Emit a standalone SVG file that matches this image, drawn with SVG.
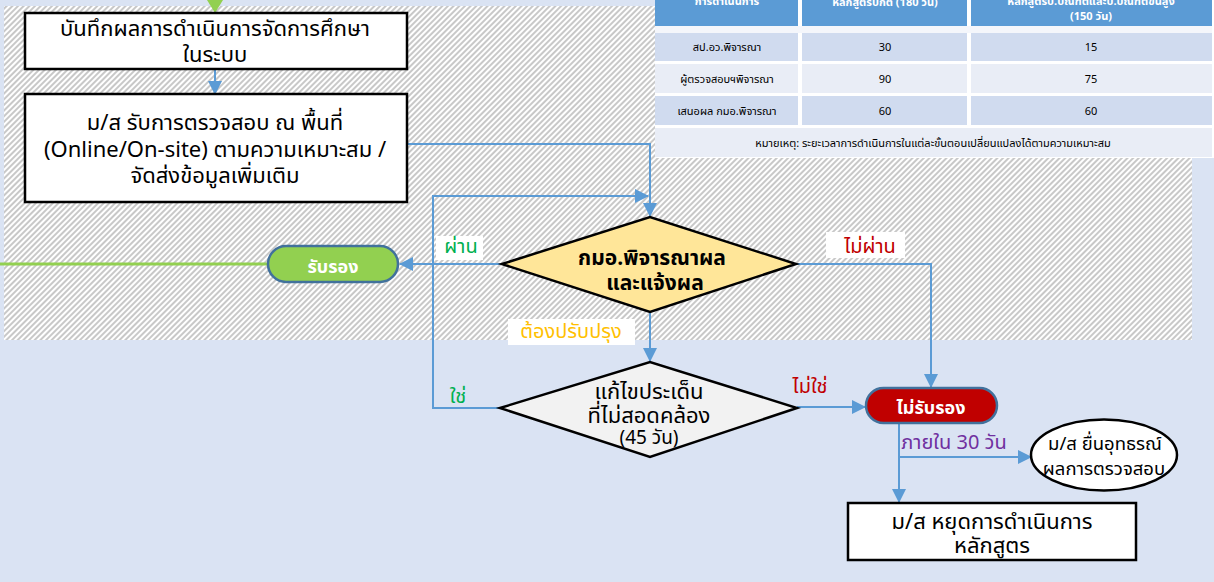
<svg xmlns="http://www.w3.org/2000/svg" width="1214" height="582" viewBox="0 0 1214 582">
<defs>
<pattern id="hatch" patternUnits="userSpaceOnUse" width="4" height="4" patternTransform="rotate(45)">
<rect width="4" height="4" fill="#ffffff"/>
<rect width="2" height="4" fill="#c8c8c8"/>
</pattern>
<marker id="arr" markerUnits="userSpaceOnUse" markerWidth="14" markerHeight="14" refX="13" refY="7" orient="auto">
<path d="M0,0 L14,7 L0,14 z" fill="#5b9bd5"/>
</marker>
</defs>
<style>
text{font-family:Tahoma,"Noto Sans Thai","Noto Sans","Liberation Sans",sans-serif;text-anchor:middle}
.box{fill:#ffffff;stroke:#000000;stroke-width:2.5}
.t20{font-size:22px;fill:#000000}
.t18{font-size:18.5px;fill:#000000}
.pill{stroke:#41719c;stroke-width:2.5}
.pt{font-size:18px;fill:#ffffff;font-weight:bold}
.con{fill:none;stroke:#5b9bd5;stroke-width:2}
.lbl{font-size:20px}
.th{font-size:11px;fill:#ffffff;font-weight:bold}
.td{font-size:11px;fill:#000000}
.hd{fill:#5b9bd5}
.r1{fill:#d0dbef}
.r2{fill:#e9edf6}
</style>
<rect width="1214" height="582" fill="#dae3f3"/>
<rect x="4" y="6" width="1188" height="334" fill="url(#hatch)"/>

<g id="table">
<rect x="655" y="0" width="559" height="158" fill="#ffffff"/>
<rect class="hd" x="655" y="0" width="143" height="26"/>
<rect class="hd" x="802" y="0" width="165" height="26"/>
<rect class="hd" x="971" y="0" width="241" height="26"/>
<rect x="655" y="26" width="557" height="7" fill="#f4f6fb"/>
<rect class="r1" x="655" y="33" width="143" height="28"/>
<rect class="r1" x="802" y="33" width="165" height="28"/>
<rect class="r1" x="971" y="33" width="241" height="28"/>
<rect class="r2" x="655" y="64" width="143" height="29"/>
<rect class="r2" x="802" y="64" width="165" height="29"/>
<rect class="r2" x="971" y="64" width="241" height="29"/>
<rect class="r1" x="655" y="96" width="143" height="29"/>
<rect class="r1" x="802" y="96" width="165" height="29"/>
<rect class="r1" x="971" y="96" width="241" height="29"/>
<rect class="r2" x="655" y="128" width="557" height="29"/>
<text class="th" x="727" y="5">การดำเนินการ</text>
<text class="th" x="885" y="6">หลักสูตรปกติ (180 วัน)</text>
<text class="th" x="1091" y="5">หลักสูตรป.บัณฑิตและป.บัณฑิตขั้นสูง</text>
<text class="th" x="1091" y="20">(150 วัน)</text>
<text class="td" x="727" y="51">สป.อว.พิจารณา</text>
<text class="td" x="885" y="51">30</text>
<text class="td" x="1091" y="51">15</text>
<text class="td" x="727" y="83">ผู้ตรวจสอบฯพิจารณา</text>
<text class="td" x="885" y="83">90</text>
<text class="td" x="1091" y="83">75</text>
<text class="td" x="727" y="115">เสนอผล กมอ.พิจารณา</text>
<text class="td" x="885" y="115">60</text>
<text class="td" x="1091" y="115">60</text>
<text class="td" x="933" y="147">หมายเหตุ: ระยะเวลาการดำเนินการในแต่ละขั้นตอนเปลี่ยนแปลงได้ตามความเหมาะสม</text>
</g>

<g id="connectors">
<path d="M0,264 H268" fill="none" stroke="#92d050" stroke-width="3"/>
<path d="M215,0 V4" fill="none" stroke="#92d050" stroke-width="3"/>
<polygon points="207,0 223,0 215,13" fill="#92d050"/>
<path class="con" d="M215,69 V94" marker-end="url(#arr)"/>
<path class="con" d="M406,144 H650 V216" marker-end="url(#arr)"/>
<path class="con" d="M500,408 H433 V196 H648" marker-end="url(#arr)"/>
<path class="con" d="M502,264 H400" marker-end="url(#arr)"/>
<path class="con" d="M797,264 H931 V387" marker-end="url(#arr)"/>
<path class="con" d="M650,312 V361" marker-end="url(#arr)"/>
<path class="con" d="M797,407 H865" marker-end="url(#arr)"/>
<path class="con" d="M899,424 V502" marker-end="url(#arr)"/>
<path class="con" d="M899,457 H1031" marker-end="url(#arr)"/>
</g>

<g id="labels">
<rect x="436" y="236" width="47" height="24" fill="#ffffff"/>
<text class="lbl" x="461" y="253" fill="#00b050">ผ่าน</text>
<rect x="826" y="232" width="79" height="26" fill="#ffffff"/>
<text class="lbl" x="870" y="253" fill="#c00000">ไม่ผ่าน</text>
<rect x="508" y="319" width="127" height="26" fill="#ffffff"/>
<text class="lbl" x="571" y="338" fill="#ffc000">ต้องปรับปรุง</text>
<text class="lbl" x="458" y="403" fill="#00b050">ใช่</text>
<text class="lbl" x="810" y="393" fill="#c00000">ไม่ใช่</text>
<text class="lbl" x="954" y="449" fill="#7030a0">ภายใน 30 วัน</text>
</g>

<g id="n-record">
<rect class="box" x="25" y="13" width="382" height="56"/>
<text class="t20" x="215" y="36">บันทึกผลการดำเนินการจัดการศึกษา</text>
<text class="t20" x="215" y="62">ในระบบ</text>
</g>

<g id="n-inspect">
<rect class="box" x="25" y="94" width="382" height="108"/>
<text class="t20" x="215" y="130">ม/ส รับการตรวจสอบ ณ พื้นที่</text>
<text class="t20" x="215" y="157">(Online/On-site) ตามความเหมาะสม /</text>
<text class="t20" x="215" y="183">จัดส่งข้อมูลเพิ่มเติม</text>
</g>

<g id="n-decide">
<polygon points="502,264 650,217 796,264 650,312" fill="#ffe699" stroke="#000000" stroke-width="2.5"/>
<text x="652" y="265" font-size="21" font-weight="bold" fill="#000000">กมอ.พิจารณาผล</text>
<text x="655" y="290" font-size="21" font-weight="bold" fill="#000000">และแจ้งผล</text>
</g>

<g id="n-accept">
<rect class="pill" x="268" y="246" width="130" height="36" rx="18" fill="#92d050"/>
<text class="pt" x="333" y="273">รับรอง</text>
</g>

<g id="n-fix">
<polygon points="500,408 650,362 797,408 650,457" fill="#f2f2f2" stroke="#000000" stroke-width="2.5"/>
<text class="t20" x="649" y="399">แก้ไขประเด็น</text>
<text class="t20" x="649" y="423">ที่ไม่สอดคล้อง</text>
<text x="649" y="444" font-size="19" fill="#000000">(45 วัน)</text>
</g>

<g id="n-reject">
<rect class="pill" x="866" y="388" width="131" height="35" rx="17.5" fill="#c00000"/>
<text class="pt" x="931" y="414">ไม่รับรอง</text>
</g>

<g id="n-appeal">
<ellipse cx="1104" cy="455" rx="73" ry="35.5" fill="#ffffff" stroke="#000000" stroke-width="2.5"/>
<text class="t18" x="1105" y="450">ม/ส ยื่นอุทธรณ์</text>
<text class="t18" x="1104" y="475">ผลการตรวจสอบ</text>
</g>

<g id="n-stop">
<rect class="box" x="848" y="503" width="288" height="57"/>
<text class="t20" x="992" y="529">ม/ส หยุดการดำเนินการ</text>
<text class="t20" x="992" y="553">หลักสูตร</text>
</g>
</svg>
